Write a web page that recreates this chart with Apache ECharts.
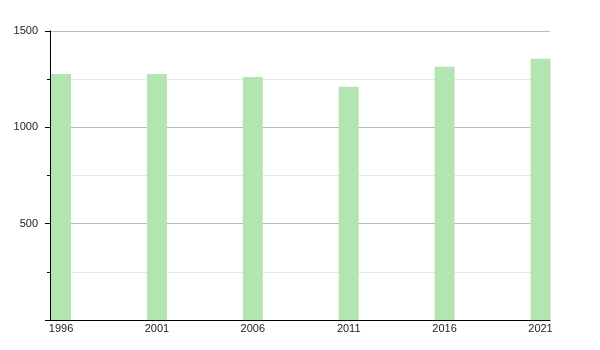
<!DOCTYPE html>
<html>
<head>
<meta charset="utf-8">
<script src="https://cdn.jsdelivr.net/npm/echarts@6/dist/echarts.min.js"></script>
<style>html,body{margin:0;padding:0;background:#fff}#c{width:600px;height:350px}</style>
</head>
<body>
<div id="c"></div>
<script>
var years = [1996, 2001, 2006, 2011, 2016, 2021];
var population = [1277, 1277, 1261, 1211, 1315, 1356];
var yTicks = [0, 500, 1000, 1500];

var chart = echarts.init(document.getElementById('c'), null, {renderer: 'canvas'});
chart.setOption({
  animation: false,
  grid: {left: 50, right: 50, top: 31, bottom: 30, containLabel: false},
  xAxis: {
    type: 'value',
    min: 1995.426,
    max: 2021.495,
    axisLine: {show: true, lineStyle: {color: '#000', width: 1}},
    axisTick: {show: false},
    splitLine: {show: false},
    axisLabel: {
      customValues: years,
      formatter: function (v) { return String(v); },
      color: '#222',
      fontFamily: 'Liberation Sans, Arial, sans-serif',
      fontSize: 11,
      margin: 3
    }
  },
  yAxis: {
    type: 'value',
    min: yTicks[0],
    max: yTicks[yTicks.length - 1],
    interval: 500,
    axisLine: {show: true, lineStyle: {color: '#000', width: 1}},
    axisTick: {show: true, length: 5, lineStyle: {color: '#000'}},
    minorTick: {show: true, splitNumber: 2, length: 3, lineStyle: {color: '#000'}},
    splitLine: {show: true, lineStyle: {color: '#bbbbbb', width: 1}},
    minorSplitLine: {show: true, lineStyle: {color: '#e6e6e6', width: 1}},
    axisLabel: {
      formatter: function (v) { return v === 0 ? '' : String(v); },
      color: '#222',
      fontFamily: 'Liberation Sans, Arial, sans-serif',
      fontSize: 11,
      margin: 12
    }
  },
  series: [{
    type: 'bar',
    barWidth: 20,
    itemStyle: {color: '#b3e5b3'},
    data: years.map(function (y, i) { return [y, population[i]]; })
  }]
});
</script>
</body>
</html>
